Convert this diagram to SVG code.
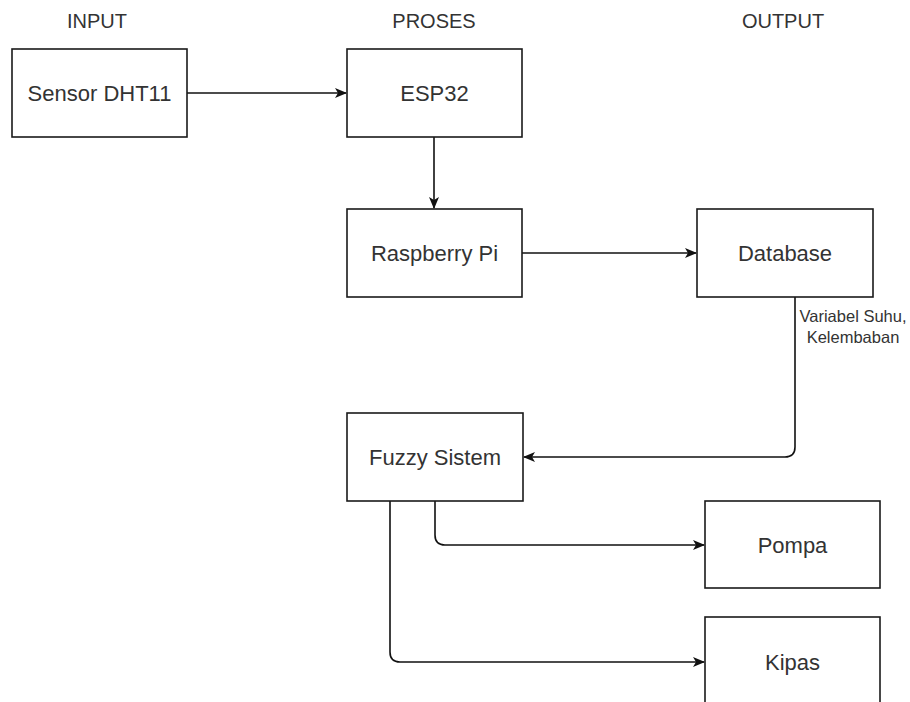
<svg xmlns="http://www.w3.org/2000/svg" width="910" height="702" viewBox="0 0 910 702">
<style>
.box{fill:#fff;stroke:#1a1a1a;stroke-width:1.6}
.lbl{font-family:"Liberation Sans",Arial,sans-serif;font-size:22px;fill:#333;text-anchor:middle}
.hdr{font-family:"Liberation Sans",Arial,sans-serif;font-size:20px;fill:#333;text-anchor:middle}
.edge{fill:none;stroke:#111;stroke-width:1.6}
.elbl{font-family:"Liberation Sans",Arial,sans-serif;font-size:16.5px;fill:#333;text-anchor:middle}
</style>
<defs>
<marker id="arr" viewBox="0 0 12 10" refX="11" refY="5" markerWidth="12" markerHeight="10" markerUnits="userSpaceOnUse" orient="auto">
<path d="M0,0 L12,5 L0,10 L3,5 Z" fill="#111"/>
</marker>
</defs>
<rect width="910" height="702" fill="#fff"/>
<g id="headers">
<text class="hdr" x="97" y="28">INPUT</text>
<text class="hdr" x="434" y="28">PROSES</text>
<text class="hdr" x="783" y="28">OUTPUT</text>
</g>
<g id="edges">
<path class="edge" d="M187,93 H346" marker-end="url(#arr)"/>
<path class="edge" d="M434,137 V208" marker-end="url(#arr)"/>
<path class="edge" d="M522,253 H696" marker-end="url(#arr)"/>
<path class="edge" d="M795,297 V447 Q795,457 785,457 H524" marker-end="url(#arr)"/>
<path class="edge" d="M435,501 V535 Q435,545 445,545 H704" marker-end="url(#arr)"/>
<path class="edge" d="M390,501 V652 Q390,662 400,662 H704" marker-end="url(#arr)"/>
<text class="elbl" x="853" y="322">Variabel Suhu,</text>
<text class="elbl" x="853" y="343">Kelembaban</text>
</g>
<g id="sensor">
<rect class="box" x="12" y="49" width="175" height="88"/>
<text class="lbl" x="99.5" y="101">Sensor DHT11</text>
</g>
<g id="esp32">
<rect class="box" x="347" y="49" width="175" height="88"/>
<text class="lbl" x="434.5" y="101">ESP32</text>
</g>
<g id="raspberry">
<rect class="box" x="347" y="209" width="175" height="88"/>
<text class="lbl" x="434.5" y="261">Raspberry Pi</text>
</g>
<g id="database">
<rect class="box" x="697" y="209" width="176" height="88"/>
<text class="lbl" x="785" y="261">Database</text>
</g>
<g id="fuzzy">
<rect class="box" x="347" y="413" width="176" height="88"/>
<text class="lbl" x="435" y="465">Fuzzy Sistem</text>
</g>
<g id="pompa">
<rect class="box" x="705" y="501" width="175" height="87"/>
<text class="lbl" x="792.5" y="553">Pompa</text>
</g>
<g id="kipas">
<rect class="box" x="705" y="617" width="175" height="90"/>
<text class="lbl" x="792.5" y="670">Kipas</text>
</g>
</svg>
